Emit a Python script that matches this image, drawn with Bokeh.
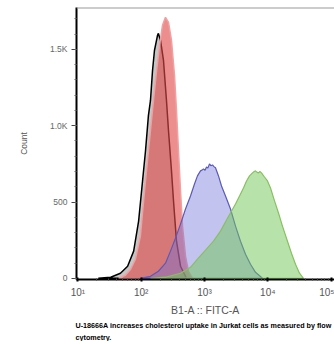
from bokeh.plotting import figure
from bokeh.models import Range1d, FixedTicker, Span, Title
from bokeh.embed import file_html
from bokeh.resources import INLINE

# ---- data (FITC-A fluorescence, event counts) ----
ctrl_x = [21, 33, 47, 61, 76, 91, 105, 117, 130, 140, 151, 162, 181, 187, 202, 225, 251, 270, 301, 324, 361, 418, 520]
ctrl_y = [0, 7, 33, 79, 178, 375, 638, 836, 1066, 1164, 1362, 1493, 1592, 1605, 1559, 1428, 1164, 967, 704, 507, 243, 79, 0]

red_x = [44, 56, 68, 81, 97, 109, 121, 140, 156, 175, 195, 217, 242, 270, 301, 336, 361, 388, 418, 449, 501, 558, 646]
red_y = [0, 20, 59, 125, 276, 507, 704, 967, 1164, 1362, 1526, 1658, 1711, 1678, 1559, 1329, 1099, 836, 572, 342, 145, 46, 0]

blue_x = [97, 140, 187, 242, 290, 348, 418, 501, 601, 695, 774, 865, 930, 964, 1020, 1076, 1130, 1199, 1260, 1338, 1410, 1492, 1664, 1857, 2147, 2576, 3091, 3707, 4446, 5333, 6397, 8245]
blue_y = [0, 13, 46, 99, 178, 263, 355, 454, 539, 618, 671, 704, 712, 717, 708, 730, 722, 750, 738, 743, 732, 724, 671, 605, 539, 454, 342, 243, 158, 92, 39, 0]

green_x = [140, 242, 418, 601, 774, 1037, 1388, 1790, 2228, 2673, 3091, 3574, 4131, 4613, 5142, 5731, 6100, 6397, 6800, 7129, 7500, 7946, 8872, 9886, 11040, 12770, 14760, 17060, 20460, 23660, 27400, 31700, 36640]
green_y = [0, 7, 33, 72, 125, 184, 243, 309, 382, 441, 487, 539, 592, 638, 671, 691, 700, 704, 694, 691, 700, 691, 664, 638, 592, 507, 428, 342, 243, 164, 92, 33, 0]

x_ticks = [10, 100, 1000, 10000, 100000]
x_tick_labels = ["10\u00b9", "10\u00b2", "10\u00b3", "10\u2074", "10\u2075"]
y_ticks = [0, 500, 1000, 1500]
y_tick_labels = ["0", "500", "1.0K", "1.5K"]
y_minor = list(range(0, 1800, 100))

caption1 = "U-18666A increases cholesterol uptake in Jurkat cells as measured by flow"
caption2 = "cytometry."

FONT = "Liberation Sans"

p = figure(width=334, height=341, x_axis_type="log",
           x_range=Range1d(9.5, 113240), y_range=Range1d(-8, 1775),
           output_backend="svg", toolbar_location=None,
           min_border_left=76, min_border_right=0, min_border_top=7, min_border_bottom=0)
p.outline_line_color = None
p.xgrid.visible = False
p.ygrid.visible = False
p.background_fill_color = "white"

# histograms
p.patch(ctrl_x, ctrl_y, fill_color="#808080", fill_alpha=0.45, line_color="black", line_width=1.5)
p.patch(red_x, red_y, fill_color="#e04848", fill_alpha=0.62, line_color="#f0a0a0", line_width=1.5)
p.patch(blue_x, blue_y, fill_color="#7070d8", fill_alpha=0.42, line_color="#5a5ab8", line_width=1.2)
p.patch(green_x, green_y, fill_color="#70c858", fill_alpha=0.5, line_color="#88c060", line_width=1.2)

# top frame line
p.add_layout(Span(location=1775, dimension="width", line_color="#9a9a9a", line_width=2))

# x axis
xa = p.xaxis[0]
xa.ticker = FixedTicker(ticks=x_ticks,
                        minor_ticks=[v * m for v in [10, 100, 1000, 10000] for m in range(2, 10)])
xa.major_label_overrides = {t: l for t, l in zip(x_ticks, x_tick_labels)}
xa.axis_label = "B1-A :: FITC-A"
xa.axis_label_text_font = FONT
xa.axis_label_text_font_style = "normal"
xa.axis_label_text_font_size = "10.5px"
xa.axis_label_text_color = "#555555"
xa.axis_label_standoff = 3
xa.major_label_text_font = FONT
xa.major_label_text_font_size = "10px"
xa.major_label_text_color = "#555555"
xa.major_label_standoff = 5
xa.axis_line_color = "black"
xa.axis_line_width = 2
xa.major_tick_in = 2
xa.major_tick_out = 2
xa.major_tick_line_width = 2
xa.minor_tick_in = 1
xa.minor_tick_out = 1
xa.minor_tick_line_color = "#444444"

# y axis
ya = p.yaxis[0]
ya.ticker = FixedTicker(ticks=y_ticks, minor_ticks=y_minor)
ya.major_label_overrides = {t: l for t, l in zip(y_ticks, y_tick_labels)}
ya.axis_label = "Count"
ya.axis_label_text_font = FONT
ya.axis_label_text_font_style = "normal"
ya.axis_label_text_font_size = "8.5px"
ya.axis_label_text_color = "#555555"
ya.axis_label_standoff = 18
ya.major_label_text_font = FONT
ya.major_label_text_font_size = "8.5px"
ya.major_label_text_color = "#666666"
ya.major_label_standoff = 4
ya.axis_line_color = "black"
ya.axis_line_width = 2
ya.major_tick_in = 0
ya.major_tick_out = 5
ya.major_tick_line_color = "#444444"
ya.minor_tick_in = 0
ya.minor_tick_out = 2
ya.minor_tick_line_color = "#666666"

# caption
t1 = Title(text=caption1, align="left", text_font=FONT, text_font_size="7.2px",
           text_font_style="bold", text_color="black", standoff=1, offset=-1)
t2 = Title(text=caption2, align="left", text_font=FONT, text_font_size="7.2px",
           text_font_style="bold", text_color="black", standoff=0, offset=-1)
p.add_layout(t1, "below")
p.add_layout(t2, "below")

open("out.html", "w").write(file_html(p, INLINE))
